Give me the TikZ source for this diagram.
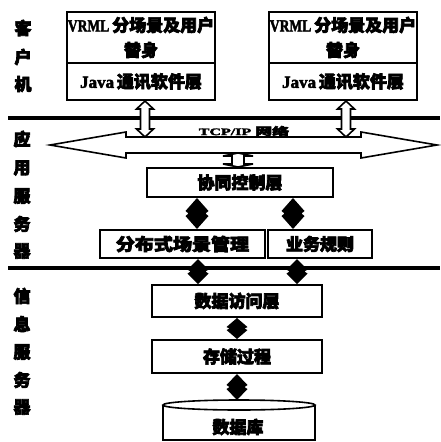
\documentclass[tikz,border=0pt]{standalone}
\usepackage{fontspec}
\newfontfamily\cjk[FakeBold=4]{Noto Sans CJK SC}
\newfontfamily\lat[FakeBold=2.5]{Liberation Serif}
\usetikzlibrary{calc}
\tikzset{
 box/.style={draw, line width=2pt, fill=white, inner sep=0pt, align=center,
   font=\cjk\bfseries\fontsize{17}{25}\selectfont},
 sepline/.style={line width=4pt},
 hollow/.style={draw, line width=1.6pt, fill=white, line join=miter},
 side/.style={font=\cjk\bfseries\fontsize{17}{17}\selectfont, inner sep=0pt}
}
\newcommand\lt[1]{{\lat\bfseries #1}}
% vertical hollow double arrow: top, bottom, head half width, shaft half width, head length
\newcommand\hollowv[5]{%
 \path[hollow] let \p1=#1, \p2=#2 in (\x1,\y1) -- (\x1+#3,\y1-#5) -- (\x1+#4,\y1-#5)
  -- (\x1+#4,\y2+#5) -- (\x1+#3,\y2+#5) -- (\x1,\y2) -- (\x1-#3,\y2+#5) -- (\x1-#4,\y2+#5)
  -- (\x1-#4,\y1-#5) -- (\x1-#3,\y1-#5) -- cycle;}
% horizontal hollow double arrow: left tip, right tip, head half width, shaft half width, head length
\newcommand\hollowh[5]{%
 \path[hollow] let \p1=#1, \p2=#2 in (\x1,\y1) -- (\x1+#5,\y1+#3) -- (\x1+#5,\y1+#4)
  -- (\x2-#5,\y1+#4) -- (\x2-#5,\y1+#3) -- (\x2,\y1) -- (\x2-#5,\y1-#3) -- (\x2-#5,\y1-#4)
  -- (\x1+#5,\y1-#4) -- (\x1+#5,\y1-#3) -- cycle;}
% solid double-headed (diamond) connector: top, bottom, half width, head length
\newcommand\solidv[4]{%
 \fill let \p1=#1, \p2=#2 in (\x1,\y1) -- (\x1+#3,\y1-#4) -- (\x1+#3-3pt,0.5*\y1+0.5*\y2)
  -- (\x1+#3,\y2+#4) -- (\x1,\y2) -- (\x1-#3,\y2+#4) -- (\x1-#3+3pt,0.5*\y1+0.5*\y2)
  -- (\x1-#3,\y1-#4) -- cycle;}
\begin{document}
\begin{tikzpicture}[x=1pt,y=-1pt]
\useasboundingbox (0,0) rectangle (440,442);
\fill[white] (0,0) rectangle (440,442);

% separator lines
\coordinate (l1a) at (8,118); \coordinate (l1b) at (440,118);
\coordinate (l2a) at (8,268); \coordinate (l2b) at (440,268);
\draw[sepline] (l1a) -- (l1b);
\draw[sepline] (l2a) -- (l2b);

% side labels
\node[side] (s1) at (23,28) {客};
\node[side] (s2) at (23,57) {户};
\node[side] (s3) at (23,84) {机};
\node[side] (s4) at (22,139) {应};
\node[side] (s5) at (22,168) {用};
\node[side] (s6) at (22,196) {服};
\node[side] (s7) at (22,224) {务};
\node[side] (s8) at (22,251) {器};
\node[side] (s9) at (22,296) {信};
\node[side] (s10) at (22,324) {息};
\node[side] (s11) at (22,352) {服};
\node[side] (s12) at (22,380) {务};
\node[side] (s13) at (22,407) {器};

% client boxes
\node[box, minimum width=148pt, minimum height=51pt] (vr1) at (141,37.5) {\lt{\scalebox{0.8}[1]{VRML}}\,分场景及用户\\替身};
\node[box, minimum width=148pt, minimum height=37pt] (ja1) at (141,81.5) {\lt{Java}\,通讯软件层};
\node[box, minimum width=148pt, minimum height=51pt] (vr2) at (343,37.5) {\lt{\scalebox{0.8}[1]{VRML}}\,分场景及用户\\替身};
\node[box, minimum width=148pt, minimum height=37pt] (ja2) at (343,81.5) {\lt{Java}\,通讯软件层};

% network arrow
\coordinate (netL) at (50,145);
\coordinate (netR) at (437,145);
\coordinate (nettop) at (240,137);
\coordinate (netbot) at (240,153);
\hollowh{(netL)}{(netR)}{13pt}{8pt}{76pt}
\node[inner sep=0pt] (tcp) at (244,131) {\scalebox{1}[0.62]{\lat\bfseries\fontsize{16}{16}\selectfont TCP/IP {\cjk\bfseries\fontsize{17}{17}\selectfont 网络}}};

% client to network arrows
\coordinate (c1) at ($(ja1.south)+(4,0)$);
\coordinate (c2) at ($(ja2.south)+(3,0)$);
\hollowv{(c1)}{(c1 |- nettop)}{8.5pt}{4.5pt}{8pt}
\hollowv{(c2)}{(c2 |- nettop)}{8.5pt}{4.5pt}{8pt}

% application server
\node[box, minimum width=186pt, minimum height=29pt] (ctrl) at (240,182.5) {协同控制层};
\node[box, minimum width=165pt, minimum height=28pt] (dist) at (182.5,244) {\scalebox{1.12}[1]{分布式场景管理}};
\node[box, minimum width=104pt, minimum height=28pt] (rule) at (320,244) {业务规则};
\coordinate (ib) at ($(ctrl.north)+(-2,0)$);
\hollowv{(ib |- netbot)}{(ib)}{15pt}{6pt}{3pt}

% information server
\node[box, minimum width=170pt, minimum height=32pt] (dacc) at (237,301) {数据访问层};
\node[box, minimum width=170pt, minimum height=33pt] (proc) at (237,356.5) {存储过程};

% database cylinder
\coordinate (dbtop) at (239,400);
\draw[line width=1.6pt, fill=white] (163,405) -- (163,440) -- (315,440) -- (315,405);
\draw[line width=1.6pt, fill=white] (239,405) ellipse [x radius=76, y radius=5];
\node[font=\cjk\bfseries\fontsize{17}{17}\selectfont, inner sep=0pt] (db) at (238,427) {数据库};

% diamond connectors
\coordinate (x1) at (197,0); \coordinate (x2) at (293,0);
\coordinate (x3) at (198,0); \coordinate (x4) at (297,0);
\solidv{(x1 |- ctrl.south)}{(x1 |- dist.north)}{11.5pt}{13pt}
\solidv{(x2 |- ctrl.south)}{(x2 |- rule.north)}{11.5pt}{13pt}
\solidv{(x3 |- dist.south)}{(x3 |- dacc.north)}{10.5pt}{10.5pt}
\solidv{(x4 |- rule.south)}{(x4 |- dacc.north)}{10.5pt}{10.5pt}
\solidv{(dacc.south)}{(proc.north)}{10.5pt}{9pt}
\solidv{(proc.south)}{(dbtop)}{10.5pt}{11pt}
\end{tikzpicture}
\end{document}
